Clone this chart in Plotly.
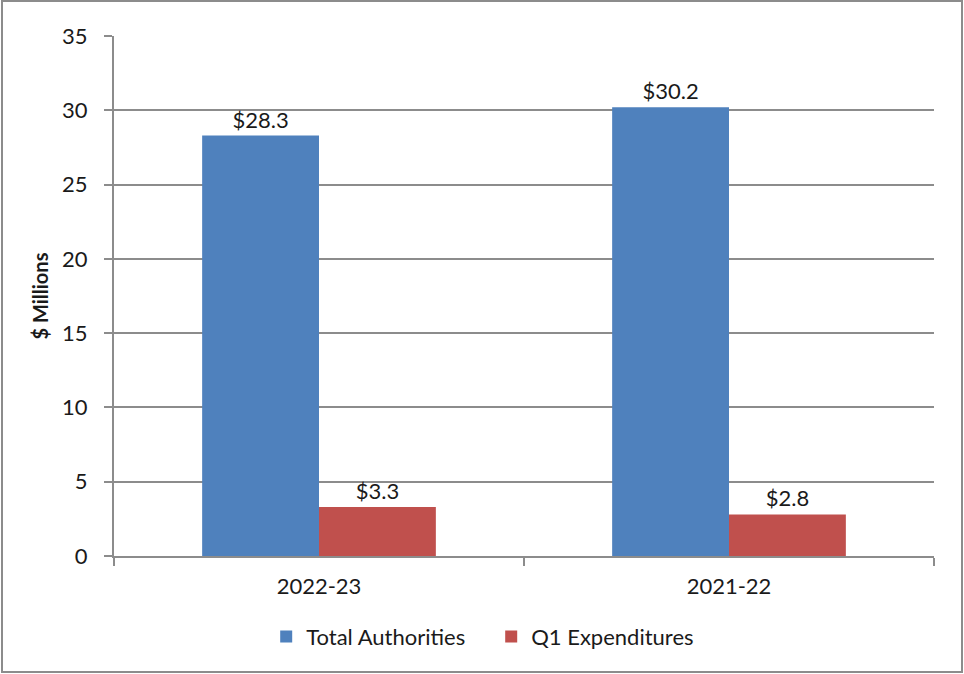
import plotly.graph_objects as go

categories = ["2022-23", "2021-22"]
total_authorities = [28.3, 30.2]
q1_expenditures = [3.3, 2.8]
y_ticks = [0, 5, 10, 15, 20, 25, 30, 35]

W, H = 964, 674
L, R, T, B = 114, 30, 36, 118
pw, ph = W - L - R, H - T - B

def px(x):
    return (x - L) / pw

def py(y):
    return (H - B - y) / ph

font_family = "Lato, 'Open Sans', sans-serif"
grid_col = "#8c8c8c"
txt = "#1a1a1a"

fig = go.Figure()
fig.add_trace(go.Bar(
    name="Total Authorities", x=categories, y=total_authorities,
    marker=dict(color="#4F81BD", line=dict(width=0)),
    text=[f"${v:.1f}" for v in total_authorities], textposition="outside",
    textfont=dict(size=22, color=txt, family=font_family), cliponaxis=False,
))
fig.add_trace(go.Bar(
    name="Q1 Expenditures", x=categories, y=q1_expenditures,
    marker=dict(color="#C0504D", line=dict(width=0)),
    text=[f"${v:.1f}" for v in q1_expenditures], textposition="outside",
    textfont=dict(size=22, color=txt, family=font_family), cliponaxis=False,
))

fig.update_layout(
    width=W, height=H,
    margin=dict(l=L, r=R, t=T, b=B),
    paper_bgcolor="white", plot_bgcolor="white",
    barmode="group", bargap=0.43, bargroupgap=0,
    font=dict(family=font_family, color=txt),
    showlegend=True,
    legend=dict(orientation="h", x=0.46, xanchor="center", y=-0.115, yanchor="top",
                font=dict(size=22), itemwidth=30, traceorder="normal",
                entrywidth=180, entrywidthmode="pixels"),
    xaxis=dict(
        type="category", showgrid=False, tickson="boundaries",
        ticks="outside", ticklen=8, tickcolor=grid_col, tickwidth=2,
        showline=True, linecolor=grid_col, linewidth=2,
        tickfont=dict(size=22), range=[-0.5, 1.5], ticklabelstandoff=10,
    ),
    yaxis=dict(
        range=[0, 35], tickvals=y_ticks, showgrid=True, gridcolor=grid_col, gridwidth=2,
        ticks="outside", ticklen=8, tickcolor=grid_col, tickwidth=2,
        showline=True, linecolor=grid_col, linewidth=2, zeroline=False,
        tickfont=dict(size=22), ticklabelstandoff=12,
        title=dict(text="<b>$ Millions</b>", font=dict(size=20), standoff=8),
    ),
    shapes=[dict(
        type="rect", xref="paper", yref="paper",
        x0=px(2), x1=px(962), y0=py(672), y1=py(1),
        line=dict(color="#8c8c8c", width=2), fillcolor="rgba(0,0,0,0)", layer="below",
    )],
)

fig.write_html("out.html")
